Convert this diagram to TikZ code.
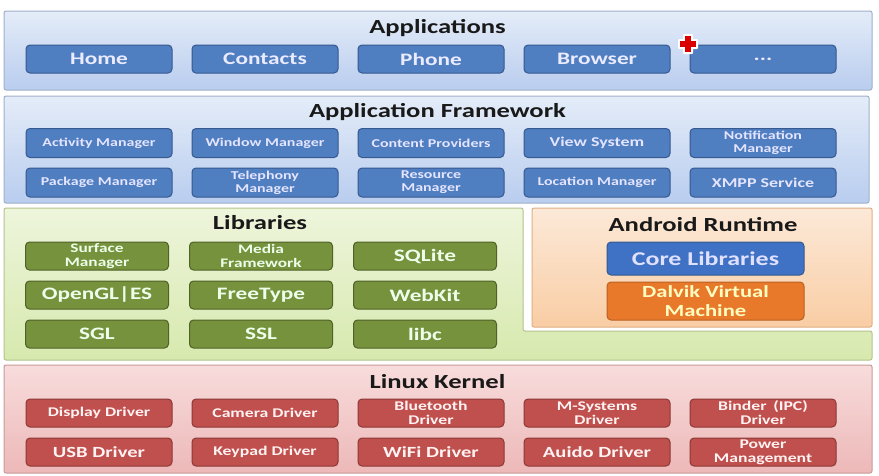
\documentclass[tikz,border=0pt]{standalone}
\usepackage{fontspec}
\setmainfont{Carlito}[FakeStretch=1.33]
\definecolor{bluebox}{HTML}{4F7EC1}
\definecolor{blueedge}{HTML}{36598F}
\definecolor{bluetop}{HTML}{E4ECF8}
\definecolor{bluebot}{HTML}{B9CDEF}
\definecolor{blueframe}{HTML}{9FB0CC}
\definecolor{greenbox}{HTML}{76923C}
\definecolor{greenedge}{HTML}{4F6228}
\definecolor{greentop}{HTML}{EEF5DC}
\definecolor{greenbot}{HTML}{D7E9AE}
\definecolor{greenframe}{HTML}{B3C48C}
\definecolor{peachtop}{HTML}{FCE9D8}
\definecolor{peachbot}{HTML}{F9CDA4}
\definecolor{peachframe}{HTML}{E2AE84}
\definecolor{redbox}{HTML}{C0504D}
\definecolor{rededge}{HTML}{8C3836}
\definecolor{pinktop}{HTML}{F8DCDC}
\definecolor{pinkbot}{HTML}{EDB8B8}
\definecolor{pinkframe}{HTML}{C99A9A}
\definecolor{corebox}{HTML}{3F72C4}
\definecolor{dalvikbox}{HTML}{E8792A}
\tikzset{
  layer/.style={rounded corners=2pt, line width=1pt},
  ttl/.style={font=\bfseries\fontsize{20}{22}\selectfont, text=black!90},
  box/.style={rounded corners=4pt, minimum width=146pt, minimum height=28pt, inner sep=0pt, align=center, line width=1pt},
  appbox/.style={box, fill=bluebox, draw=blueedge, text=white!92!blue, font=\bfseries\fontsize{17.5}{18}\selectfont},
  fwbox/.style={box, minimum height=29pt, fill=bluebox, draw=blueedge, text=white!90!blue, font=\bfseries\fontsize{13.5}{14}\selectfont},
  fwsmall/.style={fwbox, font=\bfseries\fontsize{12}{13}\selectfont},
  libbox/.style={box, minimum width=143pt, fill=greenbox, draw=greenedge, text=white!92!green, font=\bfseries\fontsize{17.5}{18}\selectfont},
  libsmall/.style={libbox, font=\bfseries\fontsize{13}{14}\selectfont},
  kbox/.style={box, fill=redbox, draw=rededge, text=white!95!red, font=\bfseries\fontsize{15.5}{16}\selectfont},
  ksmall/.style={kbox, font=\bfseries\fontsize{13.3}{14}\selectfont},
}
\begin{document}
\begin{tikzpicture}[x=1pt,y=1pt]
\useasboundingbox[fill=white] (0,0) rectangle (879,-475);
% layers
\draw[layer, draw=blueframe, top color=bluetop, bottom color=bluebot] (4,-11) rectangle (872,-90);
\draw[layer, draw=blueframe, top color=bluetop, bottom color=bluebot] (4,-96) rectangle (869,-203);
\draw[layer, draw=greenframe, top color=greentop, bottom color=greenbot]
  (4,-208) -- (523,-208) -- (523,-331) -- (872,-331) -- (872,-360) -- (4,-360) -- cycle;
\draw[layer, draw=peachframe, top color=peachtop, bottom color=peachbot] (532,-208) rectangle (872,-327);
\draw[layer, draw=pinkframe, top color=pinktop, bottom color=pinkbot] (4,-365) rectangle (872,-473);
% titles
\node[ttl] (tapp) at (437.5,-28) {Applications};
\node[ttl] (tfw) at (437.5,-112) {Application Framework};
\node[ttl] (tlib) at (260,-223) {Libraries};
\node[ttl] (tart) at (703,-225) {Android Runtime};
\node[ttl] (tker) at (437.5,-382) {Linux Kernel};
% applications
\node[appbox] (home) at (99,-59) {Home};
\node[appbox] (contacts) at (265,-59) {Contacts};
\node[appbox] (phone) at (431,-59) {Phone};
\node[appbox] (browser) at (597,-59) {Browser};
\node[appbox] (more) at (763,-59) {...};
% red cross
\fill[white, rounded corners=1pt] (683,-34) rectangle (693,-54);
\fill[white, rounded corners=1pt] (678,-39) rectangle (698,-49);
\fill[red!85!black] (685,-36) rectangle (691,-52);
\fill[red!85!black] (680,-41) rectangle (696,-47);
% framework
\node[fwsmall] (act) at (99,-143) {Activity Manager};
\node[fwsmall] (win) at (265,-143) {Window Manager};
\node[fwsmall] (cp) at (431,-143) {Content Providers};
\node[fwbox] (view) at (597,-143) {View System};
\node[fwsmall] (notif) at (763,-143) {Notification\\Manager};
\node[fwsmall] (pkg) at (99,-182.5) {Package Manager};
\node[fwsmall] (tel) at (265,-182.5) {Telephony\\Manager};
\node[fwsmall] (res) at (431,-182.5) {Resource\\Manager};
\node[fwsmall] (loc) at (597,-182.5) {Location Manager};
\node[fwbox] (xmpp) at (763,-182.5) {XMPP Service};
% libraries
\node[libsmall] (surf) at (97,-256) {Surface\\Manager};
\node[libsmall] (media) at (261,-256) {Media\\Framework};
\node[libbox] (sqlite) at (425,-256) {SQLite};
\node[libbox] (opengl) at (97,-295) {OpenGL|ES};
\node[libbox] (ft) at (261,-295) {FreeType};
\node[libbox] (webkit) at (425,-295) {WebKit};
\node[libbox] (sgl) at (97,-334) {SGL};
\node[libbox] (ssl) at (261,-334) {SSL};
\node[libbox] (libc) at (425,-334) {libc};
% android runtime
\node[box, minimum width=197pt, minimum height=33pt, fill=corebox, draw=blueedge, text=white!88!blue, font=\bfseries\fontsize{19.5}{20}\selectfont] (core) at (705.5,-258.5) {Core Libraries};
\node[box, minimum width=197pt, minimum height=38pt, fill=dalvikbox, draw=dalvikbox!80!black, text=yellow!25!white, font=\bfseries\fontsize{17}{19}\selectfont] (dalvik) at (705.5,-301) {Dalvik Virtual\\Machine};
% kernel
\node[ksmall] (disp) at (99,-413) {Display Driver};
\node[ksmall] (cam) at (265,-413) {Camera Driver};
\node[ksmall] (bt) at (431,-413) {Bluetooth\\Driver};
\node[ksmall] (msys) at (597,-413) {M-Systems\\Driver};
\node[ksmall] (binder) at (763,-413) {Binder\enspace(IPC)\\Driver};
\node[kbox] (usb) at (99,-452) {USB Driver};
\node[ksmall] (key) at (265,-452) {Keypad Driver};
\node[kbox] (wifi) at (431,-452) {WiFi Driver};
\node[kbox] (audio) at (597,-452) {Auido Driver};
\node[ksmall] (power) at (763,-452) {Power\\Management};
\end{tikzpicture}
\end{document}
